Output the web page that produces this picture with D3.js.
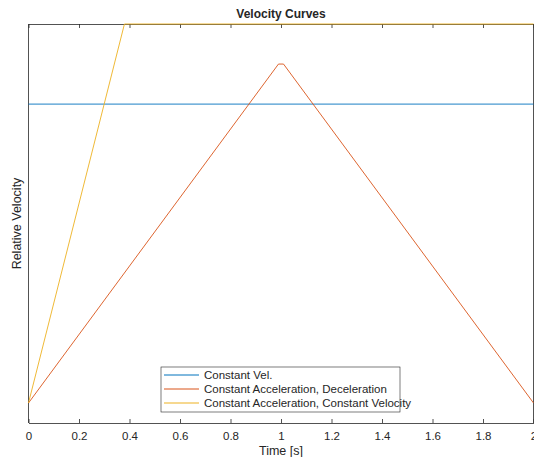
<!DOCTYPE html>
<html>
<head>
<meta charset="utf-8">
<script src="https://cdn.jsdelivr.net/npm/d3@7"></script>
<style>
  body { margin: 0; background: #fff; }
  svg text { font-family: "Liberation Sans", Arial, sans-serif; fill: #262626; }
</style>
</head>
<body>
<svg id="chart" width="534" height="457"></svg>
<script>
'use strict';

// values
const seriesNames = ['Constant Vel.', 'Constant Acceleration, Deceleration', 'Constant Acceleration, Constant Velocity'];
const seriesColors = ['#0072BD', '#D95319', '#EDB120'];
const constVelX = [0, 2];
const constVelY = [1, 1];
const accDecX = [0, 0.99, 1.01, 2];
const accDecY = [0, 1.134, 1.134, 0];
const accConstX = [0, 0.38, 2];
const accConstY = [0, 1.268, 1.268];
const xTicks = [0, 0.2, 0.4, 0.6, 0.8, 1, 1.2, 1.4, 1.6, 1.8, 2];
const yLimits = [-0.067, 1.268];

const plot = {left: 28.5, right: 533.5, top: 24, bottom: 423};

const svg = d3.select('#chart');

const x = d3.scaleLinear().domain([0, 2]).range([plot.left, plot.right]);
const y = d3.scaleLinear().domain(yLimits).range([plot.bottom, plot.top]);

// axes box
const bottomAxis = d3.axisBottom(x).tickValues(xTicks).tickSizeInner(-4).tickSizeOuter(0)
    .tickPadding(9).tickFormat(d3.format('~g'));
const topAxis = d3.axisTop(x).tickValues(xTicks).tickSizeInner(-4).tickSizeOuter(0).tickFormat('');

const gb = svg.append('g').attr('transform', 'translate(0,' + plot.bottom + ')').call(bottomAxis);
const gt = svg.append('g').attr('transform', 'translate(0,' + plot.top + ')').call(topAxis);
[gb, gt].forEach(function(g) {
    g.select('.domain').attr('stroke', '#262626').attr('stroke-width', 0.8);
    g.selectAll('.tick line').attr('stroke', '#262626').attr('stroke-width', 0.8);
    g.selectAll('.tick text').style('font-size', '11.5px').attr('fill', '#262626');
});
svg.append('line').attr('x1', plot.left).attr('x2', plot.left).attr('y1', plot.top).attr('y2', plot.bottom)
    .attr('stroke', '#262626').attr('stroke-width', 0.8);
svg.append('line').attr('x1', plot.right).attr('x2', plot.right).attr('y1', plot.top).attr('y2', plot.bottom)
    .attr('stroke', '#262626').attr('stroke-width', 0.8);

// lines
const line = d3.line().x(d => x(d[0])).y(d => y(d[1]));
const series = [
    d3.zip(constVelX, constVelY),
    d3.zip(accDecX, accDecY),
    d3.zip(accConstX, accConstY)
];
series.forEach(function(s, i) {
    svg.append('path').datum(s).attr('d', line).attr('fill', 'none')
        .attr('stroke', seriesColors[i]).attr('stroke-width', 0.9);
});

// title and labels
svg.append('text').attr('x', (plot.left + plot.right) / 2).attr('y', 18).attr('text-anchor', 'middle')
    .style('font-size', '12px').style('font-weight', 'bold').attr('fill', '#000').text('Velocity Curves');
svg.append('text').attr('x', (plot.left + plot.right) / 2).attr('y', 455).attr('text-anchor', 'middle')
    .style('font-size', '12.5px').text('Time [s]');
svg.append('text').attr('transform', 'translate(21,' + ((plot.top + plot.bottom) / 2) + ') rotate(-90)')
    .attr('text-anchor', 'middle').style('font-size', '12.5px').text('Relative Velocity');

// legend
const legend = svg.append('g').attr('transform', 'translate(161,367)');
legend.append('rect').attr('x', 0).attr('y', 0).attr('width', 239).attr('height', 45)
    .attr('fill', '#fff').attr('stroke', '#262626').attr('stroke-width', 0.6);
seriesNames.forEach(function(name, i) {
    const ly = 8 + i * 14;
    legend.append('line').attr('x1', 3).attr('x2', 38).attr('y1', ly).attr('y2', ly)
        .attr('stroke', seriesColors[i]).attr('stroke-width', 1);
    legend.append('text').attr('x', 43).attr('y', ly + 4).style('font-size', '11.5px').text(name);
});
</script>
</body>
</html>
